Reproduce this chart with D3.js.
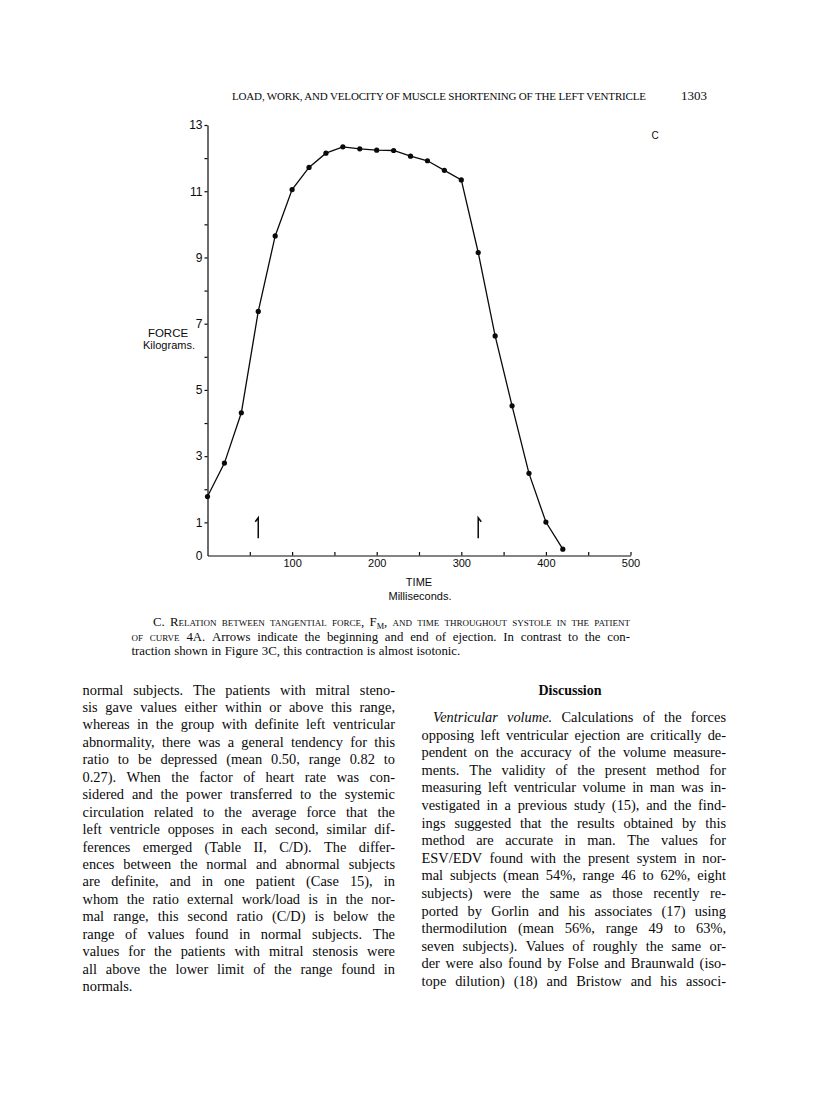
<!DOCTYPE html>
<html>
<head>
<meta charset="utf-8">
<script src="https://cdn.jsdelivr.net/npm/d3@7"></script>
<style>
  body { margin: 0; background: #fff; }
  svg { display: block; }
</style>
</head>
<body>
<div id="container"></div>
<script>
let w = 816;
let h = 1100;

///////////////// data
let timeMs = [0, 20, 40, 60, 80, 100, 120, 140, 160, 180, 200, 220, 240, 260, 280, 300, 320, 340, 360, 380, 400, 420];
let forceKg = [1.78, 2.79, 4.31, 7.37, 9.65, 11.05, 11.72, 12.15, 12.34, 12.28, 12.24, 12.23, 12.06, 11.92, 11.63, 11.34, 9.15, 6.63, 4.52, 2.48, 1.01, 0.19];
// arrows: beginning and end of ejection
let arrowTimes = [60, 320];
let arrowLow = 0.52;
let arrowHigh = 1.14;

let xTickValues = [50, 100, 150, 200, 250, 300, 350, 400, 450, 500];
let xTickLabels = [100, 200, 300, 400, 500];
let yTickValues = [0, 1, 2, 3, 4, 5, 6, 7, 8, 9, 10, 11, 12, 13];
let yTickLabels = [0, 1, 3, 5, 7, 9, 11, 13];

let headerText = "LOAD, WORK, AND VELOCITY OF MUSCLE SHORTENING OF THE LEFT VENTRICLE";
let pageNumber = "1303";

// ^ = small caps word, _ = italic word
let captionLines = [
  "C. ^Relation ^between ^tangential ^force, F_M, ^and ^time ^throughout ^systole ^in ^the ^patient",
  "^of ^curve 4A. Arrows indicate the beginning and end of ejection. In contrast to the con-",
  "traction shown in Figure 3C, this contraction is almost isotonic."
];

let leftColumn = [
  "normal subjects. The patients with mitral steno-",
  "sis gave values either within or above this range,",
  "whereas in the group with definite left ventricular",
  "abnormality, there was a general tendency for this",
  "ratio to be depressed (mean 0.50, range 0.82 to",
  "0.27). When the factor of heart rate was con-",
  "sidered and the power transferred to the systemic",
  "circulation related to the average force that the",
  "left ventricle opposes in each second, similar dif-",
  "ferences emerged (Table II, C/D). The differ-",
  "ences between the normal and abnormal subjects",
  "are definite, and in one patient (Case 15), in",
  "whom the ratio external work/load is in the nor-",
  "mal range, this second ratio (C/D) is below the",
  "range of values found in normal subjects. The",
  "values for the patients with mitral stenosis were",
  "all above the lower limit of the range found in",
  "normals."
];

let rightColumn = [
  "_Ventricular _volume. Calculations of the forces",
  "opposing left ventricular ejection are critically de-",
  "pendent on the accuracy of the volume measure-",
  "ments. The validity of the present method for",
  "measuring left ventricular volume in man was in-",
  "vestigated in a previous study (15), and the find-",
  "ings suggested that the results obtained by this",
  "method are accurate in man. The values for",
  "ESV/EDV found with the present system in nor-",
  "mal subjects (mean 54%, range 46 to 62%, eight",
  "subjects) were the same as those recently re-",
  "ported by Gorlin and his associates (17) using",
  "thermodilution (mean 56%, range 49 to 63%,",
  "seven subjects). Values of roughly the same or-",
  "der were also found by Folse and Braunwald (iso-",
  "tope dilution) (18) and Bristow and his associ-"
];

let serif = "'Liberation Serif', 'DejaVu Serif', serif";
let sans = "'Liberation Sans', 'DejaVu Sans', sans-serif";
let ink = "#0a0a0a";

let viz = d3.select("#container")
  .append("svg")
    .attr("width", w)
    .attr("height", h)
    .style("background-color", "white");

////////////////// header
viz.append("text")
  .attr("x", 232).attr("y", 100)
  .attr("textLength", 414).attr("lengthAdjust", "spacing")
  .style("font-family", serif).style("font-size", "11px")
  .attr("fill", ink)
  .text(headerText);
viz.append("text")
  .attr("x", 681).attr("y", 100)
  .style("font-family", serif).style("font-size", "13px")
  .attr("fill", ink)
  .text(pageNumber);

////////////////// scales
let xScale = d3.scaleLinear().domain([0, 500]).range([207.5, 630.5]);
let yScale = d3.scaleLinear().domain([0, 13]).range([555.5, 125]);

////////////////// x axis, ticks point up into the plot
let xAxis = d3.axisBottom(xScale)
  .tickValues(xTickValues)
  .tickSizeInner(-3.5)
  .tickSizeOuter(0)
  .tickPadding(4)
  .tickFormat(function(d){ return xTickLabels.includes(d) ? d : ""; });
let xAxisGroup = viz.append("g").attr("class", "xaxis")
  .attr("transform", "translate(0," + yScale(0) + ")")
  .call(xAxis);

////////////////// y axis
let yAxis = d3.axisLeft(yScale)
  .tickValues(yTickValues)
  .tickSizeInner(3)
  .tickSizeOuter(0)
  .tickPadding(2)
  .tickFormat(function(d){ return yTickLabels.includes(d) ? d : ""; });
let yAxisGroup = viz.append("g").attr("class", "yaxis")
  .attr("transform", "translate(" + xScale(0) + ",0)")
  .call(yAxis);

viz.selectAll(".xaxis path, .yaxis path, .xaxis line, .yaxis line")
  .attr("stroke", ink).attr("stroke-width", 1.2);
xAxisGroup.selectAll("text").style("font-family", sans).style("font-size", "11px").attr("fill", ink);
yAxisGroup.selectAll("text").style("font-family", sans).style("font-size", "12px").attr("fill", ink);
// no tick mark for the 0 at the corner
yAxisGroup.selectAll(".tick").filter(function(d){ return d === 0; }).select("line").remove();

////////////////// axis titles
let labels = viz.append("g")
  .style("font-family", sans).style("font-size", "11.5px").attr("fill", ink)
  .attr("text-anchor", "middle");
labels.append("text").attr("x", 168).attr("y", 337).text("FORCE");
labels.append("text").attr("x", 169).attr("y", 349).style("font-size", "11px").text("Kilograms.");
labels.append("text").attr("x", 419).attr("y", 586).style("font-size", "11px").text("TIME");
labels.append("text").attr("x", 420).attr("y", 600).style("font-size", "11px").text("Milliseconds.");
labels.append("text").attr("x", 655).attr("y", 139).style("font-size", "10px").text("C");

////////////////// curve
let points = timeMs.map(function(t, i){ return {t: t, f: forceKg[i]}; });
let line = d3.line()
  .x(function(d){ return xScale(d.t); })
  .y(function(d){ return yScale(d.f); });

viz.append("path")
  .datum(points)
  .attr("d", line)
  .attr("fill", "none")
  .attr("stroke", ink)
  .attr("stroke-width", 1.3);

viz.selectAll(".dot").data(points).enter()
  .append("circle")
  .attr("class", "dot")
  .attr("cx", function(d){ return xScale(d.t); })
  .attr("cy", function(d){ return yScale(d.f); })
  .attr("r", 2.6)
  .attr("fill", ink);

////////////////// ejection arrows
function arrowPath(t, i){
  let x = xScale(t);
  let top = yScale(arrowHigh);
  let bottom = yScale(arrowLow);
  // first one hooks left like a "1", second hooks right
  let hook = i === 0 ? -3 : 3;
  return "M" + (x + hook) + "," + (top + 4) + "L" + x + "," + top + "L" + x + "," + bottom;
}
viz.selectAll(".arrow").data(arrowTimes).enter()
  .append("path")
  .attr("class", "arrow")
  .attr("d", arrowPath)
  .attr("fill", "none")
  .attr("stroke", ink)
  .attr("stroke-width", 1.5);

////////////////// justified text lines, word by word
function setLine(g, str, x, y, width, justify, size){
  let tokens = str.split(" ");
  let words = tokens.map(function(tok){
    let t = g.append("text").attr("y", y)
      .style("font-family", serif).style("font-size", size + "px").attr("fill", ink);
    if (tok[0] === "^"){
      t.style("font-variant", "small-caps").text(tok.slice(1));
    } else if (tok[0] === "_"){
      t.style("font-style", "italic").text(tok.slice(1));
    } else if (tok === "F_M,"){
      t.append("tspan").text("F");
      t.append("tspan").attr("dy", 2.5).style("font-size", (size * 0.65) + "px").text("M");
      t.append("tspan").attr("dy", -2.5).text(",");
    } else {
      t.text(tok);
    }
    return {node: t, w: t.node().getComputedTextLength()};
  });
  let total = d3.sum(words, function(d){ return d.w; });
  let gap = size * 0.28;
  if (justify && words.length > 1){
    gap = (width - total) / (words.length - 1);
  }
  let cx = x;
  words.forEach(function(d){
    d.node.attr("x", cx);
    cx += d.w + gap;
  });
}

////////////////// caption
let caption = viz.append("g").attr("class", "caption");
setLine(caption, captionLines[0], 153, 626, 630 - 153, true, 12.8);
setLine(caption, captionLines[1], 131.5, 640.5, 630 - 131.5, true, 12.8);
setLine(caption, captionLines[2], 131.5, 655, 0, false, 12.8);

////////////////// body columns
let leftG = viz.append("g").attr("class", "left");
leftColumn.forEach(function(s, i){
  let last = i === leftColumn.length - 1;
  setLine(leftG, s, 82.5, 694.5 + i * 17.45, 395 - 82.5, !last, 14.4);
});

viz.append("text")
  .attr("x", 570).attr("y", 694.5)
  .attr("text-anchor", "middle")
  .style("font-family", serif).style("font-size", "14px").style("font-weight", "bold")
  .attr("fill", ink)
  .text("Discussion");

let rightG = viz.append("g").attr("class", "right");
rightColumn.forEach(function(s, i){
  let x0 = i === 0 ? 433 : 421.5;
  setLine(rightG, s, x0, 722 + i * 17.6, 726 - x0, true, 14.4);
});
</script>
</body>
</html>
